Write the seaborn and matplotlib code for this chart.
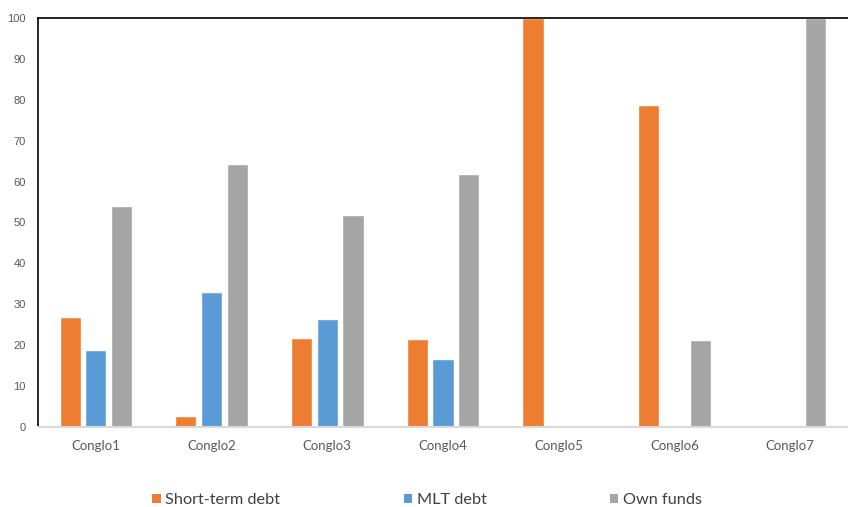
import matplotlib
matplotlib.use("Agg")
import matplotlib.pyplot as plt
import seaborn as sns
import pandas as pd
from matplotlib.patches import Patch

categories = ["Conglo1", "Conglo2", "Conglo3", "Conglo4", "Conglo5", "Conglo6", "Conglo7"]
short_term = [27.0, 2.6, 21.7, 21.4, 100.0, 78.8, 0.0]
mlt_debt = [18.8, 33.0, 26.5, 16.7, 0.0, 0.0, 0.0]
own_funds = [54.1, 64.3, 51.8, 61.9, 0.0, 21.3, 100.0]
series_names = ["Short-term debt", "MLT debt", "Own funds"]
colors = ["#ED7D31", "#5B9BD5", "#A5A5A5"]
yticks = list(range(0, 101, 10))

rows = []
for name, vals in zip(series_names, [short_term, mlt_debt, own_funds]):
    for c, v in zip(categories, vals):
        rows.append({"cat": c, "series": name, "value": v})
df = pd.DataFrame(rows)

sns.set_theme(style="white")
plt.rcParams["font.family"] = ["Lato", "DejaVu Sans"]

fig = plt.figure(figsize=(8.48, 5.07), dpi=100)
ax = fig.add_axes([38/848, 1-427/507, 810/848, 409/507])

sns.barplot(data=df, x="cat", y="value", hue="series", order=categories,
            hue_order=series_names, palette=colors, width=0.667, gap=0.18,
            saturation=1, ax=ax, legend=False, errorbar=None)

ax.set_xlim(-0.5, 6.5)
ax.set_ylim(0, 100)
ax.set_yticks(yticks)
ax.set_xlabel("")
ax.set_ylabel("")
ax.tick_params(axis="y", length=0, pad=9, labelsize=8, labelcolor="#595959")
ax.tick_params(axis="x", length=0, pad=9, labelsize=9.5, labelcolor="#595959")
for lab in ax.get_yticklabels():
    lab.set_fontfamily(["Liberation Sans", "DejaVu Sans"])

ax.spines["right"].set_visible(False)
ax.spines["left"].set_color("black")
ax.spines["left"].set_linewidth(1.2)
ax.spines["top"].set_color("black")
ax.spines["top"].set_linewidth(1.2)
ax.spines["bottom"].set_color("#D9D9D9")
ax.spines["bottom"].set_linewidth(1.5)
ax.grid(False)

handles = [Patch(facecolor=c, edgecolor="none") for c in colors]
fig.legend(handles, series_names, loc="center", bbox_to_anchor=(0.504, 0.013),
           ncol=3, frameon=False, fontsize=11.7, handlelength=0.5, handleheight=0.5,
           handletextpad=0.3, columnspacing=7.6, labelcolor="#404040")

fig.savefig("out.png", dpi=100)
